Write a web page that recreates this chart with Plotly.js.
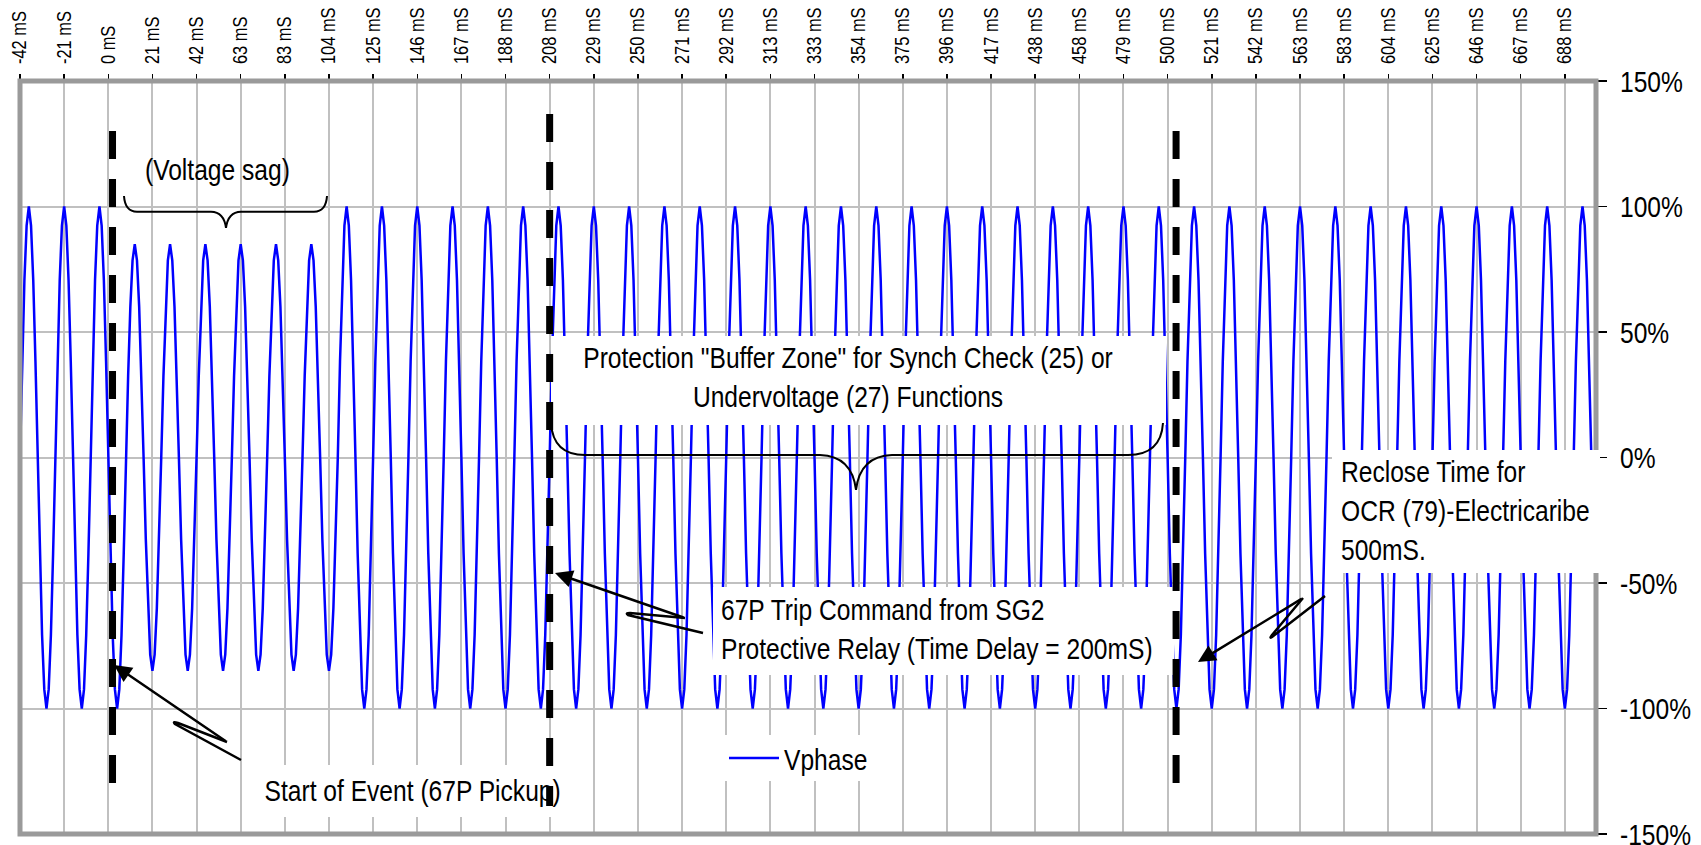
<!DOCTYPE html>
<html>
<head>
<meta charset="utf-8">
<script src="https://cdn.plot.ly/plotly-3.0.1.min.js"></script>
<style>
  html, body { margin: 0; padding: 0; background: #ffffff; }
  #chart { width: 1701px; height: 845px; }
</style>
</head>
<body>
<div id="chart"></div>
<script>
// ---------------- DATA ----------------
const SERIES_NAME = 'Vphase';
// one 60 Hz cycle, 16 samples, in % of nominal (read as a pure sine)
const CYCLE_SHAPE_PCT = [0, 38.27, 70.71, 92.39, 100, 92.39, 70.71, 38.27,
                         0, -38.27, -70.71, -92.39, -100, -92.39, -70.71, -38.27];
// amplitude of each cycle (per-unit): 6 sag cycles at 85 %
const CYCLE_AMPLITUDE = [1, 1, 1,
  0.85, 0.85, 0.85, 0.85, 0.85, 0.85,
  1, 1, 1, 1, 1, 1, 1, 1, 1, 1, 1, 1, 1, 1, 1, 1, 1, 1,
  1, 1, 1, 1, 1, 1, 1, 1, 1, 1, 1, 1, 1, 1, 1, 1, 1, 1];
const START_MS = -41.667;
const CYCLE_MS = 16.6667;
const SAMPLES_PER_CYCLE = 16;
const N_SAMPLES = 713;          // -41.7 ms ... 700 ms

const X_TICK_MS = [-41.667, -20.833, 0, 20.833, 41.667, 62.5, 83.333, 104.167, 125,
  145.833, 166.667, 187.5, 208.333, 229.167, 250, 270.833, 291.667, 312.5, 333.333,
  354.167, 375, 395.833, 416.667, 437.5, 458.333, 479.167, 500, 520.833, 541.667,
  562.5, 583.333, 604.167, 625, 645.833, 666.667, 687.5];
const X_TICK_LABELS = ['-42 mS', '-21 mS', '0 mS', '21 mS', '42 mS', '63 mS', '83 mS',
  '104 mS', '125 mS', '146 mS', '167 mS', '188 mS', '208 mS', '229 mS', '250 mS',
  '271 mS', '292 mS', '313 mS', '333 mS', '354 mS', '375 mS', '396 mS', '417 mS',
  '438 mS', '458 mS', '479 mS', '500 mS', '521 mS', '542 mS', '563 mS', '583 mS',
  '604 mS', '625 mS', '646 mS', '667 mS', '688 mS'];
const Y_TICK_VALUES = [-150, -100, -50, 0, 50, 100, 150];
const Y_TICK_LABELS = ['-150%', '-100%', '-50%', '0%', '50%', '100%', '150%'];

// event marker times (ms): pickup, 67P trip, reclose
const EVENT_MS = [2, 208.33, 504];

const LABEL_SAG = '(Voltage sag)';
const LABEL_BUFFER = 'Protection "Buffer Zone" for Synch Check (25) or<br>Undervoltage (27) Functions';
const LABEL_RECLOSE = 'Reclose Time for<br>OCR (79)-Electricaribe<br>500mS.';
const LABEL_TRIP = '67P Trip Command from SG2<br>Protective Relay (Time Delay = 200mS)';
const LABEL_START = 'Start of Event (67P Pickup)';

// ---------------- BUILD SERIES ----------------
const xs = [], ys = [];
const sampleMs = CYCLE_MS / SAMPLES_PER_CYCLE;
for (let i = 0; i < N_SAMPLES; i++) {
  const c = Math.floor(i / SAMPLES_PER_CYCLE);
  const k = i % SAMPLES_PER_CYCLE;
  xs.push(START_MS + i * sampleMs);
  ys.push(CYCLE_AMPLITUDE[c] * CYCLE_SHAPE_PCT[k]);
}

// ---------------- LAYOUT HELPERS ----------------
const FONT = 'Liberation Sans, Arial, sans-serif';
const NARROW = 0.82;   // Arial Narrow width ratio
const L = 20, R = 1596, T = 81, B = 834;
const W = R - L, H = B - T;
const px = x => (x - L) / W;
const py = y => (B - y) / H;
const pxPath = s => s.replace(/(-?\d+\.?\d*),(-?\d+\.?\d*)/g,
  (m, a, b) => px(+a).toFixed(5) + ',' + py(+b).toFixed(5));

const box = (x0, y0, x1, y1) => ({
  type: 'rect', xref: 'paper', yref: 'paper', layer: 'above',
  x0: px(x0), x1: px(x1), y0: py(y1), y1: py(y0),
  fillcolor: '#ffffff', line: { width: 0 }
});
const pathShape = (d, w) => ({
  type: 'path', xref: 'paper', yref: 'paper', layer: 'above',
  path: pxPath(d), line: { color: '#000000', width: w }
});
const dashLine = (ms, yTop, yBot) => ({
  type: 'line', xref: 'x', yref: 'paper', layer: 'above',
  x0: ms, x1: ms, y0: py(yTop), y1: py(yBot),
  line: { color: '#000000', width: 7, dash: '28px,20px' }
});

const shapes = [
  // frame
  { type: 'rect', xref: 'paper', yref: 'paper', layer: 'above', x0: 0, x1: 1, y0: 0, y1: 1,
    line: { color: '#9a9a9a', width: 5 } },
  // white text boxes + legend box
  box(551, 336, 1166, 425),
  box(713, 587, 1174, 675),
  box(257, 765, 564, 817),
  box(1332, 450, 1600, 573),
  box(720, 735, 888, 781),
  // dashed event lines
  dashLine(EVENT_MS[0], 131, 797),
  dashLine(EVENT_MS[1], 114, 806),
  dashLine(EVENT_MS[2], 131, 792),
  // braces
  pathShape('M124,196 Q125,211.7 137,211.7 L211,211.7 Q224,212 226,228 Q228,212 241,211.7 L314,211.7 Q326,211.7 327,196', 2),
  pathShape('M551,423 Q553,455 585,455 L820,455 Q852,456 856,490 Q860,456 892,455 L1128,455 Q1161,455 1163,423', 2),
  // lightning arrows (tail parts)
  pathShape('M241,760 L175,724 Q172,721 178,723 L227,742', 2.5),
  pathShape('M703,633 L628,615 Q625,613 630,613 L685,618', 2.5),
  pathShape('M1325,596 L1272,637 Q1269,639 1272,635 L1303,598', 2.5)
];

const txt = (text, x, y, xanchor, align) => ({
  text: text, xref: 'paper', yref: 'paper', x: px(x), y: py(y),
  xanchor: xanchor, yanchor: 'middle', align: align, showarrow: false,
  font: { family: FONT, size: 30, color: '#000000' }
});
const head = (tip, from) => ({
  text: '', xref: 'paper', yref: 'paper', x: px(tip[0]), y: py(tip[1]),
  ax: from[0] - tip[0], ay: from[1] - tip[1], showarrow: true,
  arrowhead: 2, arrowsize: 1.4, arrowwidth: 2.5, arrowcolor: '#000000', standoff: 0
});

const annotations = [
  txt(LABEL_SAG, 218, 169, 'center', 'center'),
  txt(LABEL_BUFFER, 848, 377, 'center', 'center'),
  txt(LABEL_RECLOSE, 1339, 511, 'left', 'left'),
  txt(LABEL_TRIP, 719, 629, 'left', 'left'),
  txt(LABEL_START, 412, 790, 'center', 'center'),
  head([114, 665], [227, 742]),
  head([555, 573], [685, 618]),
  head([1198, 662], [1303, 598])
];

const trace = {
  type: 'scatter', mode: 'lines', name: SERIES_NAME,
  x: xs, y: ys,
  line: { color: '#0000ff', width: 2.5 },
  hoverinfo: 'skip'
};

const layout = {
  width: 1701, height: 845,
  margin: { l: L, r: 1701 - R, t: T, b: 845 - B, pad: 0 },
  paper_bgcolor: '#ffffff', plot_bgcolor: '#ffffff',
  font: { family: FONT, color: '#000000' },
  showlegend: true,
  legend: {
    x: px(724), xanchor: 'left', y: py(758), yanchor: 'middle',
    bgcolor: 'rgba(0,0,0,0)', borderwidth: 0,
    font: { family: FONT, size: 30, color: '#000000' },
    itemwidth: 50
  },
  xaxis: {
    side: 'top', range: [START_MS, 702.2], type: 'linear',
    tickmode: 'array', tickvals: X_TICK_MS, ticktext: X_TICK_LABELS,
    tickangle: -90, tickfont: { family: FONT, size: 20, color: '#000000' },
    ticks: 'outside', ticklen: 6, tickwidth: 1.5, tickcolor: '#000000',
    ticklabelstandoff: 6,
    showgrid: true, gridcolor: '#c0c0c0', gridwidth: 2,
    zeroline: false, showline: false, fixedrange: true
  },
  yaxis: {
    side: 'right', range: [-150, 150],
    tickmode: 'array', tickvals: Y_TICK_VALUES, ticktext: Y_TICK_LABELS,
    tickfont: { family: FONT, size: 30, color: '#000000' },
    ticks: 'outside', ticklen: 10, tickwidth: 1.5, tickcolor: '#000000',
    ticklabelstandoff: 7, ticklabeloverflow: 'allow',
    showgrid: true, gridcolor: '#c0c0c0', gridwidth: 2,
    zeroline: false, showline: false, fixedrange: true
  },
  shapes: shapes,
  annotations: annotations
};

// narrow the Liberation Sans glyphs horizontally (Arial Narrow look), around each text anchor
function narrowTexts(gd) {
  gd.querySelectorAll('svg text').forEach(t => {
    if (t.dataset.narrowed) return;
    const x = parseFloat(t.getAttribute('x')) || 0;
    const y = parseFloat(t.getAttribute('y')) || 0;
    const tr = t.getAttribute('transform') || '';
    t.setAttribute('transform',
      tr + ' translate(' + x + ',' + y + ') scale(' + NARROW + ',1) translate(' + (-x) + ',' + (-y) + ')');
    t.dataset.narrowed = '1';
  });
}

Plotly.newPlot('chart', [trace], layout, { displayModeBar: false, staticPlot: true })
  .then(gd => narrowTexts(gd));
</script>
</body>
</html>
